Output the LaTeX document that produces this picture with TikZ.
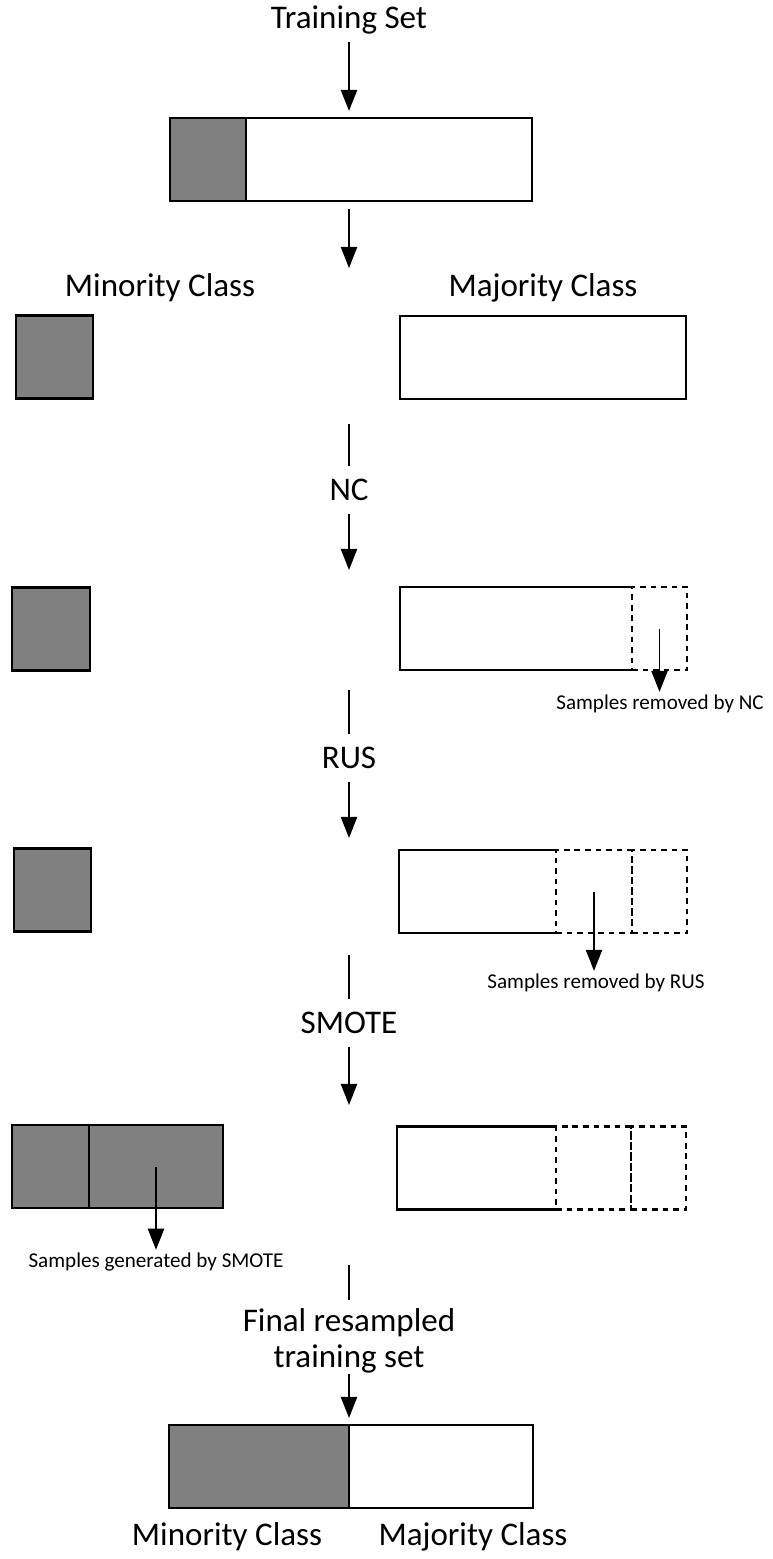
\documentclass[tikz,border=0pt]{standalone}
\usepackage{fontspec}
\setmainfont{Carlito}
\usetikzlibrary{positioning,arrows.meta}
\newcommand\pxl{0.025cm}
\tikzset{
  box/.style={draw, line width=2.1pt, inner sep=0pt, outer sep=0pt, minimum height={83*\pxl}, minimum width={#1*\pxl}},
  minbox/.style={box=#1, fill=black!50},
  majbox/.style={box=#1, fill=white},
  cutbox/.style={box=#1, dash pattern=on 4pt off 3.5pt},
  keptbox/.style={box=#1, draw=none},
  kept/.style={line width=2.1pt},
  arr/.style={-{Triangle[length=15pt,width=11.5pt]}, line width=1.4pt},
  stem/.style={line width=1.4pt},
  lbl/.style={font=\fontsize{23.5}{26}\selectfont, inner sep=0pt},
  steplbl/.style={lbl, inner sep=9pt},
  note/.style={font=\fontsize{15}{18}\selectfont, inner sep=2pt},
}
\begin{document}
\begin{tikzpicture}[x=\pxl, y=-\pxl]
  \useasboundingbox[fill=white] (0,0) rectangle (772,1559);
  % whole training set
  \node[lbl] (train) at (349,20) {Training Set};
  \node[minbox=76] (topmin) at (208,159.5) {};
  \node[majbox=286, right=0pt of topmin] (topmaj) {};
  \draw[arr, shorten <=5pt, shorten >=5pt] (train) -- (train |- topmaj.north);
  \coordinate (split) at (349,268);
  \draw[arr, shorten <=6pt] (train |- topmaj.south) -- (split);
  % split into classes
  \node[lbl] (minlbl) at (160,288) {Minority Class};
  \node[lbl] (majlbl) at (543,288) {Majority Class};
  \node[minbox=77] (min0) at (54.5,357) {};
  \node[majbox=286] (maj0) at (543,357.5) {};
  % NC
  \coordinate (ncin) at (349,424);
  \node[steplbl] (nc) at (349,490) {NC};
  \coordinate (ncout) at (349,570);
  \draw[stem] (ncin) -- (nc);
  \draw[arr] (nc) -- (ncout);
  \node[minbox=78] (min1) at (51,629) {};
  \node[keptbox=232] (maj1) at (516,628.5) {};
  \node[cutbox=55, right=0pt of maj1] (cut1) {};
  \draw[kept] (maj1.north east) -- (maj1.north west) -- (maj1.south west) -- (maj1.south east);
  \node[note] (nctxt) at (660,704) {Samples removed by NC};
  \draw[arr] (cut1.center) -- (cut1.center |- nctxt.north);
  % RUS
  \coordinate (rusin) at (349,690);
  \node[steplbl] (rus) at (349,758) {RUS};
  \coordinate (rusout) at (349,838);
  \draw[stem] (rusin) -- (rus);
  \draw[arr] (rus) -- (rusout);
  \node[minbox=77] (min2) at (52.5,890) {};
  \node[keptbox=157] (maj2) at (477.5,891.5) {};
  \node[cutbox=76, right=0pt of maj2] (cut2) {};
  \node[cutbox=55, right=0pt of cut2] (cut3) {};
  \draw[kept] (maj2.north east) -- (maj2.north west) -- (maj2.south west) -- (maj2.south east);
  \node[note] (rustxt) at (596,983) {Samples removed by RUS};
  \draw[arr] (cut2.center) -- (cut2.center |- rustxt.north);
  % SMOTE
  \coordinate (smin) at (349,955);
  \node[steplbl] (smote) at (349,1023) {SMOTE};
  \coordinate (smout) at (349,1105);
  \draw[stem] (smin) -- (smote);
  \draw[arr] (smote) -- (smout);
  \node[minbox=77] (min3) at (50.5,1166.5) {};
  \node[minbox=134, right=0pt of min3] (syn) {};
  \node[keptbox=159] (maj3) at (476.5,1168) {};
  \node[cutbox=75, right=0pt of maj3] (cut4) {};
  \node[cutbox=55, right=0pt of cut4] (cut5) {};
  \draw[kept] (maj3.north east) -- (maj3.north west) -- (maj3.south west) -- (maj3.south east);
  \node[note] (smtxt) at (156,1262) {Samples generated by SMOTE};
  \draw[arr] (syn.center) -- (syn.center |- smtxt.north);
  % final set
  \coordinate (finin) at (349,1265);
  \node[lbl, align=center] (fin) at (349,1341) {Final resampled\\training set};
  \node[minbox=180] (fmin) at (259,1466.5) {};
  \node[majbox=184, right=0pt of fmin] (fmaj) {};
  \draw[stem, shorten >=6pt] (finin) -- (fin.north);
  \draw[arr, shorten >=5pt] (fin.south) -- (fmin.north east);
  \node[lbl] (fminlbl) at (227,1537) {Minority Class};
  \node[lbl] (fmajlbl) at (473,1537) {Majority Class};
\end{tikzpicture}
\end{document}
